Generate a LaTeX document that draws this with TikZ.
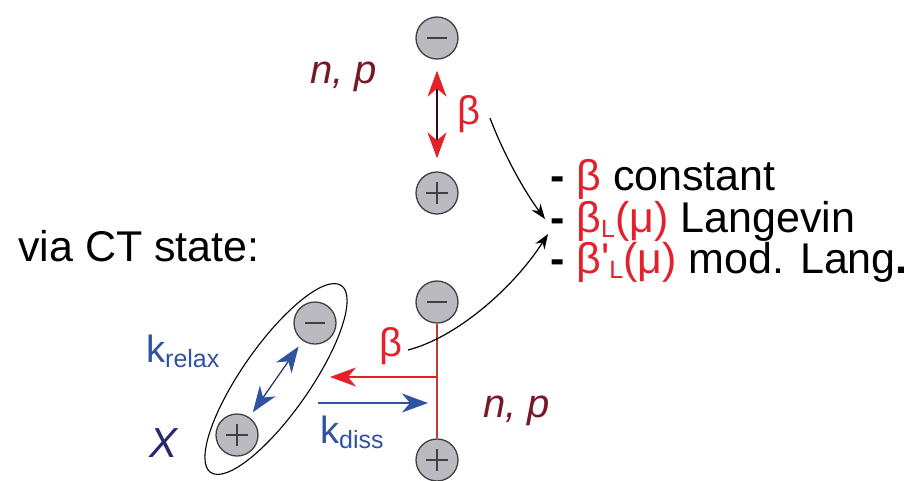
\documentclass[tikz,border=0pt]{standalone}
\usepackage{fontspec}
\setmainfont{Liberation Sans}
\usetikzlibrary{arrows.meta,shapes.geometric}

\definecolor{bred}{RGB}{228,32,42}
\definecolor{dred}{RGB}{118,24,40}
\definecolor{lred}{RGB}{190,60,50}
\definecolor{kblue}{RGB}{48,82,160}
\definecolor{xnavy}{RGB}{40,40,110}
\definecolor{ballgray}{RGB}{186,186,192}

\newcommand{\fsz}[1]{\fontsize{#1}{#1}\selectfont}
\newcommand{\lowsub}[1]{\raisebox{-5pt}{\fsz{25}#1}}

\begin{document}
\begin{tikzpicture}[
    x=1pt, y=-1pt,
    redhead/.tip={Stealth[length=26pt, width=19pt, inset=8pt, color=bred]},
    bluehead/.tip={Stealth[length=26pt, width=19pt, inset=8pt, color=kblue]},
    charge/.style={circle, draw=black!75, fill=ballgray, line width=1.3pt,
      minimum size=42pt, inner sep=0pt},
    minus/.style={charge, path picture={
      \draw[line width=2.4pt] ([xshift=-10pt]path picture bounding box.center)
        -- ([xshift=10pt]path picture bounding box.center);}},
    plus/.style={charge, path picture={
      \draw[line width=2.4pt] ([xshift=-11pt]path picture bounding box.center)
        -- ([xshift=11pt]path picture bounding box.center);
      \draw[line width=2.4pt] ([yshift=-11pt]path picture bounding box.center)
        -- ([yshift=11pt]path picture bounding box.center);}},
    big/.style={font=\fsz{43}, inner sep=0pt, anchor=base west},
    np/.style={font=\fsz{40}\itshape, text=dred, inner sep=0pt, anchor=base west},
    beta/.style={font=\fsz{40}, text=bred, inner sep=0pt, anchor=base},
    klabel/.style={font=\fsz{38}, text=kblue, inner sep=0pt, anchor=base west},
    curv/.style={line width=1.2pt, -{Stealth[length=15pt, width=11pt]}}]

    \useasboundingbox (0,0) rectangle (919,480);

    % free pair
    \node[minus] (mt) at (437,38) {};
    \node[plus] (pt) at (437,193) {};
    \draw[draw=black!60!dred, line width=1.2pt, redhead-redhead,
      shorten <=11pt, shorten >=13pt] (mt) -- (pt);
    \node[np] (npt) at (310,83) {n, p};
    \node[beta] (bt) at (469,124) {β};

    % CT state
    \node[draw, ellipse, rotate=55, minimum width=228pt, minimum height=68pt,
      line width=1.1pt] (ct) at (276,379) {};
    \node[minus] (me) at (315,323) {};
    \node[plus] (pe) at (237,435) {};
    \draw[draw=black!40!kblue, line width=1.2pt, bluehead-bluehead,
      shorten <=6pt, shorten >=7pt] (pe) -- (me);
    \node[klabel] (kr) at (146,362) {k\lowsub{relax}};
    \node[font=\fsz{42}\itshape, text=xnavy, inner sep=0pt, anchor=base west] (xl) at (149,457) {X};
    \node[big] (via) at (18,261) {via CT state:};

    % separated pair
    \node[minus] (mb) at (437,302) {};
    \node[plus] (pb) at (437,460) {};
    \draw[draw=lred, line width=1.3pt] (mb) -- (pb);
    \coordinate (jr) at (437,377);
    \coordinate (rtip) at (330,377);
    \draw[draw=bred, line width=1.2pt, -redhead] (jr) -- (rtip);
    \coordinate (kd0) at (318,403);
    \coordinate (kd1) at (428,403);
    \draw[draw=kblue, line width=1.2pt, -bluehead] (kd0) -- (kd1);
    \node[klabel] (kdl) at (320,443) {k\lowsub{diss}};
    \node[beta] (bb) at (391,356) {β};
    \node[np] (npb) at (483,417) {n, p};

    % models
    \node[big] (m1) at (550,190) {\textbf{-} \textcolor{bred}{β} constant};
    \node[big] (m2) at (550,232) {\textbf{-} \textcolor{bred}{β\lowsub{L}(μ)} Langevin};
    \node[big] (m3) at (550,273) {\textbf{-} \textcolor{bred}{β\textquotesingle\lowsub{L}(μ)} mod. Lang\textbf{.}};

    \coordinate (c1s) at (490,118);
    \coordinate (c1e) at (545,219);
    \draw[curv] (c1s) .. controls (502,150) and (522,188) .. (c1e);
    \coordinate (c2s) at (408,350);
    \coordinate (c2e) at (548,234);
    \draw[curv] (c2s) .. controls (455,338) and (512,290) .. (c2e);
\end{tikzpicture}
\end{document}
